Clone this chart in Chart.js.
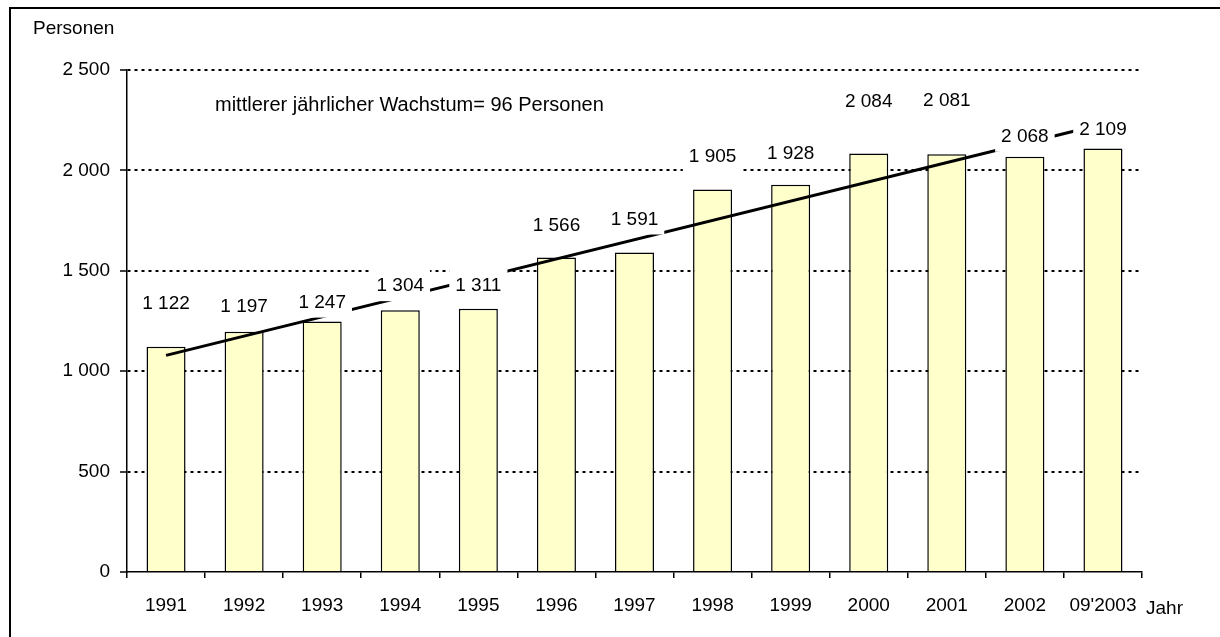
<!DOCTYPE html>
<html>
<head>
<meta charset="utf-8">
<script src="https://cdn.jsdelivr.net/npm/chart.js@4/dist/chart.umd.min.js"></script>
<style>
  body { margin: 0; background: #fff; }
</style>
</head>
<body>
<canvas id="chart" width="1220" height="637"></canvas>
<script>
const jahre = ['1991', '1992', '1993', '1994', '1995', '1996', '1997', '1998', '1999', '2000', '2001', '2002', "09'2003"];
const personen = [1122, 1197, 1247, 1304, 1311, 1566, 1591, 1905, 1928, 2084, 2081, 2068, 2109];
// Trendlinie: nur Anfangs- und Endwert (aus dem Bild gelesen)
const trend = [1079, null, null, null, null, null, null, null, null, null, null, null, 2231];
const yTicks = [0, 500, 1000, 1500, 2000, 2500];

const FONT = '"Liberation Sans", Arial, sans-serif';

// Abstand der Werte-Beschriftung über dem Balken (Pixel), wie im Original verschoben
const labelLift = [44, 26, 20, 25, 24, 33, 34, 34, 32, 53, 54, 21, 20];

function fmt(v) {
  return String(v).replace(/\B(?=(\d{3})+(?!\d))/g, ' ');
}

const extras = {
  id: 'extras',
  afterDatasetsDraw(chart) {
    const ctx = chart.ctx;
    const meta = chart.getDatasetMeta(1);
    ctx.save();
    ctx.font = '19px ' + FONT;
    ctx.textAlign = 'center';
    ctx.textBaseline = 'middle';
    meta.data.forEach((bar, i) => {
      const txt = fmt(personen[i]);
      const y = bar.y - labelLift[i];
      const w = ctx.measureText(txt).width + 12;
      ctx.fillStyle = '#fff';
      ctx.fillRect(bar.x - w / 2, y - 16, w, 32);
      ctx.fillStyle = '#000';
      ctx.fillText(txt, bar.x, y + 1);
    });

    ctx.textAlign = 'left';
    ctx.fillText('Personen', 33, 29);
    ctx.fillText('Jahr', 1146, 609);
    ctx.font = '20px ' + FONT;
    ctx.fillText('mittlerer jährlicher Wachstum= 96 Personen', 215, 105);

    // Rahmen (nur oben und links sichtbar)
    ctx.strokeStyle = '#000';
    ctx.lineWidth = 2;
    ctx.beginPath();
    ctx.moveTo(10, 637);
    ctx.lineTo(10, 8);
    ctx.lineTo(1220, 8);
    ctx.stroke();
    ctx.restore();
  }
};

new Chart(document.getElementById('chart').getContext('2d'), {
  data: {
    labels: jahre,
    datasets: [
      {
        type: 'line',
        label: 'Trend',
        data: trend,
        spanGaps: true,
        borderColor: '#000',
        borderWidth: 3,
        pointRadius: 0,
        order: 0
      },
      {
        type: 'bar',
        label: 'Personen',
        data: personen,
        backgroundColor: '#FFFFCC',
        borderColor: '#000',
        borderWidth: 1.5,
        barPercentage: 0.5,
        categoryPercentage: 1,
        order: 1
      }
    ]
  },
  options: {
    responsive: false,
    animation: false,
    layout: { padding: { left: 0, top: 70, right: 78, bottom: 0 } },
    plugins: {
      legend: { display: false },
      tooltip: { enabled: false }
    },
    scales: {
      x: {
        offset: true,
        grid: {
          offset: true,
          drawOnChartArea: false,
          color: '#000',
          tickLength: 6,
          lineWidth: 1.5
        },
        border: { color: '#000', width: 1.5 },
        ticks: {
          color: '#000',
          padding: 16,
          font: { family: FONT, size: 19 },
          maxRotation: 0,
          autoSkip: false
        },
        afterFit(scale) { scale.height = 65; }
      },
      y: {
        min: 0,
        max: 2500,
        afterBuildTicks(scale) { scale.ticks = yTicks.map(v => ({ value: v })); },
        grid: {
          color: ctx => ctx.tick && ctx.tick.value === 0 ? 'rgba(0,0,0,0)' : '#000',
          lineWidth: 2,
          tickColor: '#000',
          tickWidth: 1.5,
          tickLength: 7
        },
        border: { color: '#000', width: 1.5, dash: [3, 4] },
        ticks: {
          color: '#000',
          padding: 10,
          font: { family: FONT, size: 19 },
          callback: v => fmt(v)
        },
        afterFit(scale) { scale.width = 127; }
      }
    }
  },
  plugins: [extras]
});
</script>
</body>
</html>
